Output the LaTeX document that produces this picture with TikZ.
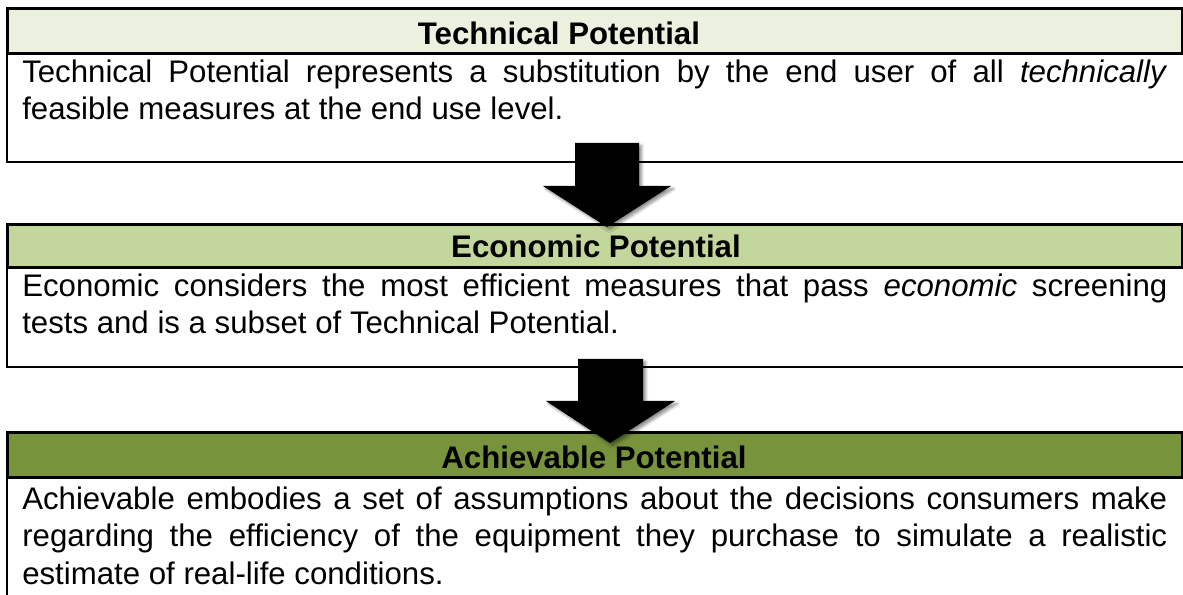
\documentclass[tikz,border=0pt]{standalone}
\usepackage{fontspec}
\setmainfont{Liberation Sans}
\usetikzlibrary{shadows.blur}
\definecolor{techfill}{HTML}{EBF1DE}
\definecolor{econfill}{HTML}{C3D69B}
\definecolor{achfill}{HTML}{77933C}

\begin{document}
\begin{tikzpicture}[x=0.75pt,y=-0.75pt,
        header/.style={draw=black,line width=2.25pt},
        frame/.style={draw=black,line width=1.5pt},
        headtext/.style={font=\fontsize{23.4}{27.75}\selectfont\bfseries,inner sep=0pt,anchor=base},
        bodytext/.style={font=\fontsize{23.4}{27.75}\selectfont,text width=858.75pt,align=justify,inner sep=0pt,anchor=base west},
        blockarrow/.style={fill=black,blur shadow={shadow xshift=2pt,shadow yshift=-2pt,shadow blur steps=6,shadow opacity=45}}]
        \useasboundingbox (0,0) rectangle (1183,595);
        % Technical potential
        \draw [frame] (7,54) |- (1190,162);
        \draw [header,fill=techfill] (7,9) rectangle (1182,54);
        \node[headtext] (techhead) at (559,45) {Technical Potential};
        \node[bodytext] (techtxt) at (22,83) {Technical Potential represents a substitution by the end user of all \textit{technically}\linebreak feasible measures at the end use level.};
        % Economic potential
        \draw [frame] (7,268) |- (1190,367);
        \draw [header,fill=econfill] (7,225) rectangle (1182,268);
        \node[headtext] (econhead) at (596,258) {Economic Potential};
        \node[bodytext] (econtxt) at (22,297) {Economic considers the most efficient measures that pass \textit{economic} screening\linebreak tests and is a subset of Technical Potential.};
        % Achievable potential
        \draw [frame] (7,478) -- (7,600);
        \draw [header,fill=achfill] (7,433) rectangle (1182,478);
        \node[headtext] (achhead) at (594,469) {Achievable Potential};
        \node[bodytext] (achtxt) at (22,510) {Achievable embodies a set of assumptions about the decisions consumers make\linebreak regarding the efficiency of the equipment they purchase to simulate a realistic\linebreak estimate of real-life conditions.};
        % Arrows
        \coordinate (tip1) at (607,227);
        \coordinate (tip2) at (610,443);
        \fill[blockarrow] (tip1) -- ++(-64,-41) -- ++(32,0) -- ++(0,-43) -- ++(64,0) -- ++(0,43) -- ++(32,0) -- cycle;
        \fill[blockarrow] (tip2) -- ++(-64,-42) -- ++(32,0) -- ++(0,-42) -- ++(65,0) -- ++(0,42) -- ++(32,0) -- cycle;
    \end{tikzpicture}
\end{document}
